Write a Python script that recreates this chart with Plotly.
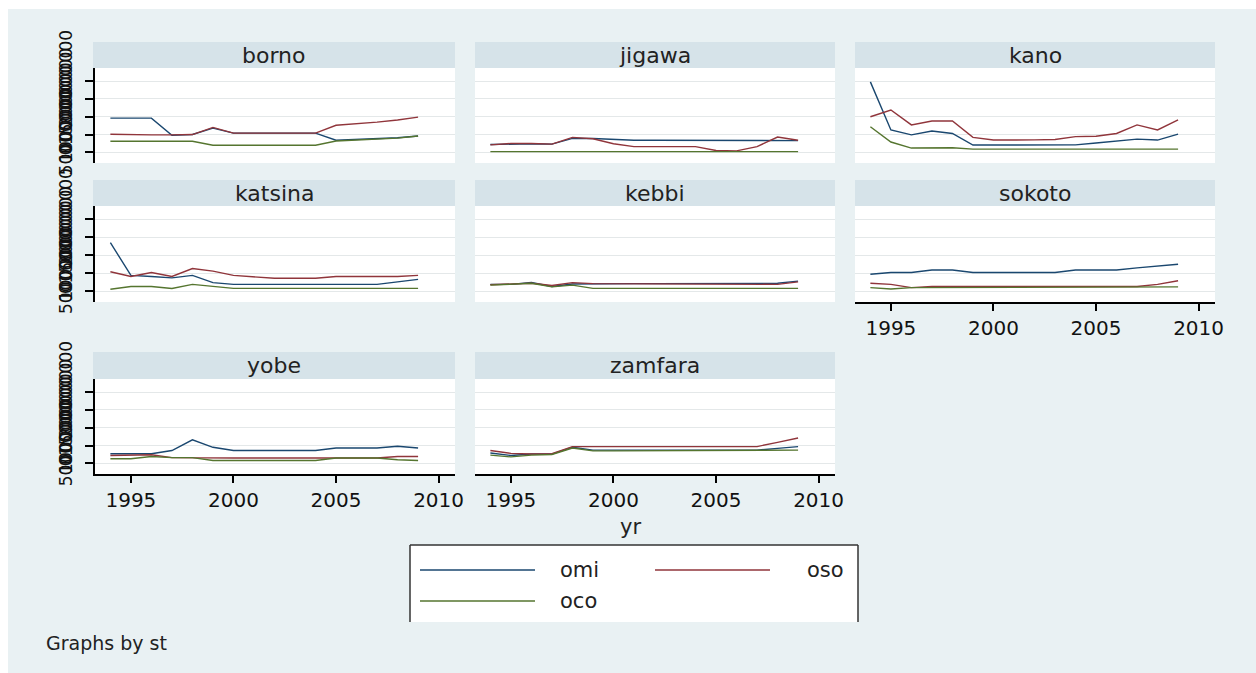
import plotly.graph_objects as go

W, H = 1256, 673

years = list(range(1994, 2010))
states = ["borno", "jigawa", "kano", "katsina", "kebbi", "sokoto", "yobe", "zamfara"]
series_names = ["omi", "oso", "oco"]
series_colors = {"omi": "#1a476f", "oso": "#90353b", "oco": "#55752f"}

omi = {
    "borno":   [9.6e7, 9.6e7, 9.6e7, 4.8e7, 5.0e7, 6.8e7, 5.4e7, 5.4e7, 5.4e7, 5.4e7, 5.4e7, 3.4e7, 3.6e7, 3.8e7, 4.1e7, 4.6e7],
    "jigawa":  [2.2e7, 2.4e7, 2.4e7, 2.3e7, 3.9e7, 3.9e7, 3.6e7, 3.4e7, 3.4e7, 3.4e7, 3.4e7, 3.4e7, 3.4e7, 3.4e7, 3.5e7, 3.3e7],
    "kano":    [19.8e7, 6.3e7, 4.9e7, 6.0e7, 5.3e7, 2.05e7, 2.05e7, 2.05e7, 2.05e7, 2.05e7, 2.1e7, 2.6e7, 3.2e7, 3.7e7, 3.45e7, 5.1e7],
    "katsina": [13.5e7, 4.4e7, 4.1e7, 3.7e7, 4.4e7, 2.4e7, 1.9e7, 1.9e7, 1.9e7, 1.9e7, 1.9e7, 1.9e7, 1.9e7, 1.9e7, 2.6e7, 3.3e7],
    "kebbi":   [1.9e7, 1.9e7, 2.4e7, 1.3e7, 2.0e7, 2.1e7, 2.1e7, 2.1e7, 2.1e7, 2.1e7, 2.1e7, 2.1e7, 2.1e7, 2.1e7, 2.2e7, 2.8e7],
    "sokoto":  [4.7e7, 5.2e7, 5.2e7, 5.9e7, 5.9e7, 5.2e7, 5.2e7, 5.2e7, 5.2e7, 5.2e7, 5.9e7, 5.9e7, 5.9e7, 6.5e7, 6.9e7, 7.5e7],
    "yobe":    [2.7e7, 2.7e7, 2.7e7, 3.6e7, 6.6e7, 4.5e7, 3.6e7, 3.6e7, 3.6e7, 3.6e7, 3.6e7, 4.3e7, 4.3e7, 4.3e7, 4.8e7, 4.3e7],
    "zamfara": [2.9e7, 2.2e7, 2.6e7, 2.6e7, 4.5e7, 3.7e7, 3.7e7, 3.7e7, 3.7e7, 3.7e7, 3.7e7, 3.7e7, 3.7e7, 3.7e7, 4.2e7, 4.7e7],
}
oso = {
    "borno":   [5.1e7, 4.9e7, 4.9e7, 4.9e7, 5.0e7, 7.0e7, 5.4e7, 5.4e7, 5.4e7, 5.4e7, 5.4e7, 7.6e7, 8.0e7, 8.5e7, 9.1e7, 9.9e7],
    "jigawa":  [2.1e7, 2.5e7, 2.5e7, 2.3e7, 4.2e7, 3.8e7, 2.4e7, 1.6e7, 1.6e7, 1.6e7, 1.6e7, 0.5e7, 0.4e7, 1.6e7, 4.3e7, 3.4e7],
    "kano":    [10.0e7, 11.9e7, 7.7e7, 8.8e7, 8.8e7, 4.2e7, 3.45e7, 3.4e7, 3.5e7, 3.6e7, 4.4e7, 4.5e7, 5.3e7, 7.7e7, 6.3e7, 9.1e7],
    "katsina": [5.4e7, 4.1e7, 5.2e7, 4.1e7, 6.3e7, 5.6e7, 4.4e7, 4.1e7, 3.6e7, 3.6e7, 3.6e7, 4.1e7, 4.1e7, 4.1e7, 4.1e7, 4.4e7],
    "kebbi":   [1.8e7, 2.0e7, 2.2e7, 1.6e7, 2.4e7, 2.1e7, 2.1e7, 2.1e7, 2.1e7, 2.1e7, 2.1e7, 2.1e7, 2.1e7, 2.1e7, 1.9e7, 2.6e7],
    "sokoto":  [2.2e7, 1.9e7, 1.0e7, 1.3e7, 1.3e7, 1.3e7, 1.3e7, 1.3e7, 1.3e7, 1.3e7, 1.3e7, 1.3e7, 1.3e7, 1.3e7, 1.9e7, 2.9e7],
    "yobe":    [2.2e7, 2.2e7, 2.4e7, 1.6e7, 1.5e7, 1.5e7, 1.5e7, 1.5e7, 1.5e7, 1.5e7, 1.5e7, 1.5e7, 1.5e7, 1.5e7, 1.9e7, 1.9e7],
    "zamfara": [3.6e7, 2.8e7, 2.6e7, 2.7e7, 4.7e7, 4.7e7, 4.7e7, 4.7e7, 4.7e7, 4.7e7, 4.7e7, 4.7e7, 4.7e7, 4.7e7, 5.9e7, 7.1e7],
}
oco = {
    "borno":   [3.1e7, 3.1e7, 3.1e7, 3.1e7, 3.1e7, 2.0e7, 2.0e7, 2.0e7, 2.0e7, 2.0e7, 2.0e7, 3.2e7, 3.4e7, 3.6e7, 4.0e7, 4.6e7],
    "jigawa":  [0.2e7, 0.2e7, 0.2e7, 0.2e7, 0.3e7, 0.3e7, 0.2e7, 0.2e7, 0.2e7, 0.2e7, 0.2e7, 0.2e7, 0.2e7, 0.2e7, 0.2e7, 0.2e7],
    "kano":    [7.2e7, 2.9e7, 1.2e7, 1.2e7, 1.3e7, 0.9e7, 0.9e7, 0.9e7, 0.9e7, 0.9e7, 0.9e7, 0.9e7, 0.9e7, 0.9e7, 0.9e7, 0.9e7],
    "katsina": [0.55e7, 1.3e7, 1.3e7, 0.75e7, 1.9e7, 1.3e7, 0.8e7, 0.8e7, 0.8e7, 0.8e7, 0.8e7, 0.8e7, 0.8e7, 0.8e7, 0.8e7, 0.8e7],
    "kebbi":   [1.7e7, 1.9e7, 2.2e7, 1.2e7, 1.7e7, 0.8e7, 0.8e7, 0.8e7, 0.8e7, 0.8e7, 0.8e7, 0.8e7, 0.8e7, 0.8e7, 0.8e7, 0.8e7],
    "sokoto":  [1.0e7, 0.6e7, 1.0e7, 1.0e7, 1.1e7, 1.1e7, 1.1e7, 1.1e7, 1.1e7, 1.1e7, 1.2e7, 1.2e7, 1.2e7, 1.2e7, 1.2e7, 1.2e7],
    "yobe":    [1.3e7, 1.3e7, 1.9e7, 1.6e7, 1.6e7, 0.8e7, 0.8e7, 0.8e7, 0.8e7, 0.8e7, 0.8e7, 1.5e7, 1.5e7, 1.5e7, 1.0e7, 0.8e7],
    "zamfara": [2.3e7, 1.8e7, 2.3e7, 2.5e7, 4.3e7, 3.5e7, 3.5e7, 3.5e7, 3.5e7, 3.5e7, 3.5e7, 3.5e7, 3.5e7, 3.5e7, 3.6e7, 3.7e7],
}
data = {"omi": omi, "oso": oso, "oco": oco}

x_tickvals = [1995, 2000, 2005, 2010]
y_tickvals = [0, 5e7, 1e8, 1.5e8, 2e8]
y_ticktext = ["0", "50000000", "100000000", "150000000", "200000000"]

# ---------- layout geometry (pixels) ----------
col_px = [(95, 455), (475, 835), (855, 1215)]
row_px = [(68, 163), (206, 302), (379, 474)]
strip_px = [(42, 68), (180, 206), (352, 379)]
panel_pos = {
    "borno": (0, 0), "jigawa": (0, 1), "kano": (0, 2),
    "katsina": (1, 0), "kebbi": (1, 1), "sokoto": (1, 2),
    "yobe": (2, 0), "zamfara": (2, 1),
}
x_axis_panels = {"sokoto", "yobe", "zamfara"}

def px_x(p):
    return p / W

def px_y(p):
    return 1 - p / H

FONT = "DejaVu Sans, Liberation Sans, Arial"
BG = "#e9f1f3"
STRIP = "#d6e3e9"
TXT = "#222222"

fig = go.Figure()
layout = dict(
    width=W, height=H, margin=dict(l=0, r=0, t=0, b=0),
    paper_bgcolor=BG, plot_bgcolor="white", showlegend=False,
    template="none", font=dict(family=FONT, color=TXT),
)
shapes = []
annotations = []

for i, st in enumerate(states, start=1):
    r, c = panel_pos[st]
    xa = "xaxis" if i == 1 else f"xaxis{i}"
    ya = "yaxis" if i == 1 else f"yaxis{i}"
    xref = "x" if i == 1 else f"x{i}"
    yref = "y" if i == 1 else f"y{i}"
    x0, x1 = col_px[c]
    y0, y1 = row_px[r]
    show_x = st in x_axis_panels
    layout[xa] = dict(
        domain=[px_x(x0), px_x(x1)], anchor=yref, range=[1993.25, 2010.8],
        showgrid=False, zeroline=False, automargin=False,
        showline=show_x, linecolor="black", linewidth=2,
        tickvals=x_tickvals, ticks="outside" if show_x else "",
        ticklen=7, tickwidth=1.5, tickcolor="black",
        showticklabels=show_x, tickfont=dict(family=FONT, size=20, color="#111"),
    )
    show_y = c == 0
    layout[ya] = dict(
        domain=[px_y(y1), px_y(y0)], anchor=xref, range=[-3.0e7, 23.7e7],
        showgrid=True, gridcolor="#e4e8e9", gridwidth=1, zeroline=False,
        automargin=False, tickvals=y_tickvals, ticktext=y_ticktext,
        showline=show_y, linecolor="black", linewidth=2,
        ticks="outside" if show_y else "", ticklen=8, tickwidth=1.5, tickcolor="black",
        showticklabels=show_y, tickangle=-90, ticklabelstandoff=6,
        tickfont=dict(family=FONT, size=17, color="#111"),
    )
    for s in series_names:
        fig.add_trace(go.Scatter(
            x=years, y=data[s][st], mode="lines", name=s,
            line=dict(color=series_colors[s], width=1.4),
            xaxis=xref, yaxis=yref, showlegend=False,
        ))
    sy0, sy1 = strip_px[r]
    sx0 = x0 - 2 if c == 0 else x0
    shapes.append(dict(type="rect", xref="paper", yref="paper",
                       x0=px_x(sx0), x1=px_x(x1), y0=px_y(sy1), y1=px_y(sy0),
                       fillcolor=STRIP, line=dict(width=0), layer="below"))
    annotations.append(dict(text=st, xref="paper", yref="paper",
                            x=px_x((sx0 + x1) / 2), y=px_y((sy0 + sy1) / 2),
                            xanchor="center", yanchor="middle", showarrow=False,
                            font=dict(family=FONT, size=22, color=TXT)))

# white outer border (top and left)
shapes.append(dict(type="rect", xref="paper", yref="paper", x0=0, x1=px_x(8), y0=0, y1=1,
                   fillcolor="white", line=dict(width=0), layer="below"))
shapes.append(dict(type="rect", xref="paper", yref="paper", x0=0, x1=1, y0=px_y(9), y1=1,
                   fillcolor="white", line=dict(width=0), layer="below"))

# x-axis title
annotations.append(dict(text="yr", xref="paper", yref="paper", x=px_x(630), y=px_y(527),
                        xanchor="center", yanchor="middle", showarrow=False,
                        font=dict(family=FONT, size=21, color=TXT)))

# legend box
lx0, lx1, ly0, ly1 = 410, 858, 545, 622
shapes.append(dict(type="rect", xref="paper", yref="paper", x0=px_x(lx0), x1=px_x(lx1),
                   y0=px_y(ly1), y1=px_y(ly0), fillcolor="white", line=dict(width=0), layer="below"))
for (ax0, ay0, ax1, ay1) in [(lx0, ly0, lx1, ly0), (lx0, ly0, lx0, ly1), (lx1, ly0, lx1, ly1)]:
    shapes.append(dict(type="line", xref="paper", yref="paper", x0=px_x(ax0), y0=px_y(ay0),
                       x1=px_x(ax1), y1=px_y(ay1), line=dict(color="#333333", width=1.5)))

legend_items = [("omi", 420, 535, 570, 558), ("oso", 655, 770, 570, 805), ("oco", 420, 535, 601, 558)]
for name, sx0, sx1, sy, tx in legend_items:
    shapes.append(dict(type="line", xref="paper", yref="paper", x0=px_x(sx0), x1=px_x(sx1),
                       y0=px_y(sy), y1=px_y(sy), line=dict(color=series_colors[name], width=1.4)))
    annotations.append(dict(text=name, xref="paper", yref="paper", x=px_x(tx), y=px_y(sy),
                            xanchor="left", yanchor="middle", showarrow=False,
                            font=dict(family=FONT, size=21, color=TXT)))

annotations.append(dict(text="Graphs by st", xref="paper", yref="paper", x=px_x(44), y=px_y(643),
                        xanchor="left", yanchor="middle", showarrow=False,
                        font=dict(family=FONT, size=19, color=TXT)))

layout["shapes"] = shapes
layout["annotations"] = annotations
fig.update_layout(**layout)
fig.write_html("out.html")
